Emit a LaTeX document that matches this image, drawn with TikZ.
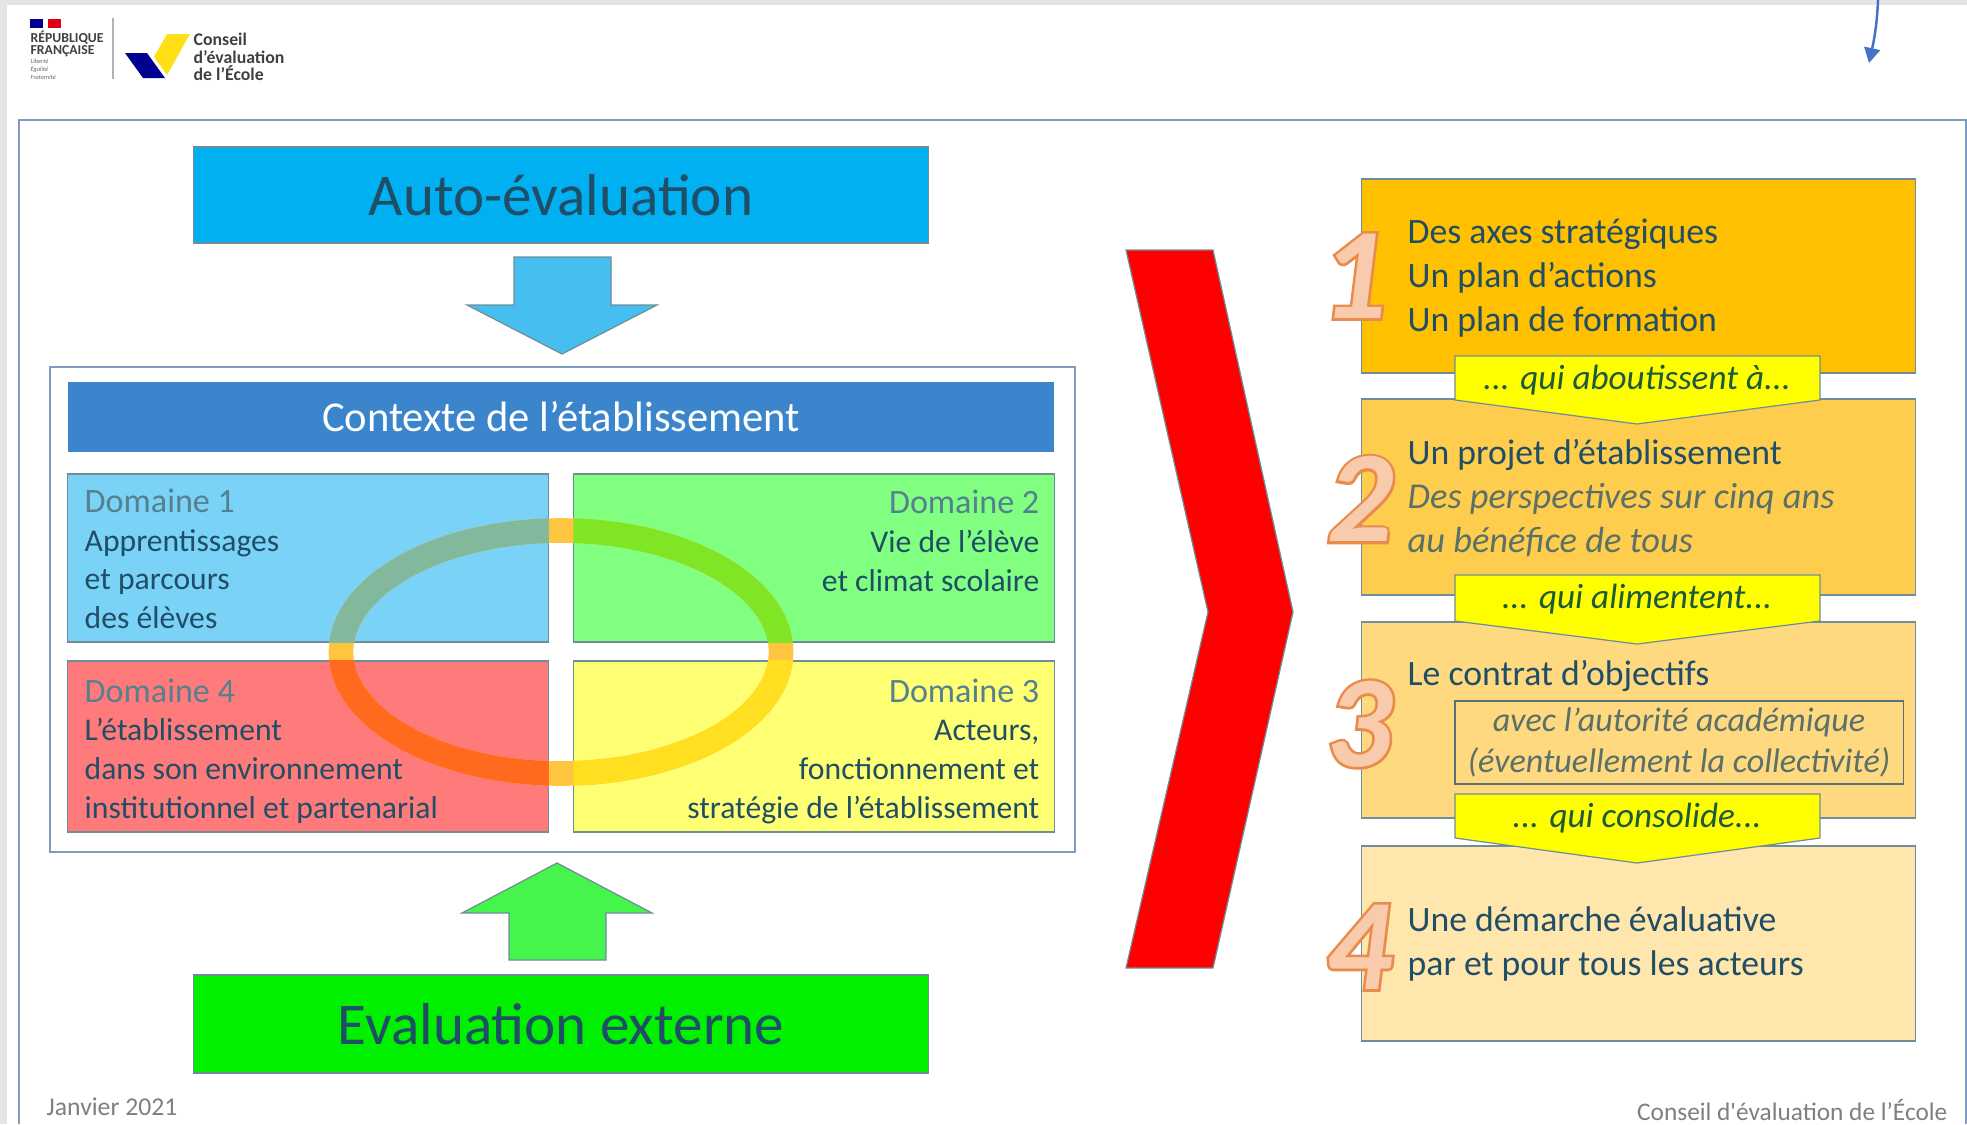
\documentclass[tikz,border=0pt]{standalone}
\usepackage{fontspec}
\setmainfont{Carlito}
\newfontfamily\digitline[FakeBold=4]{Carlito}
\newfontfamily\footline{Carlito}
\usetikzlibrary{arrows.meta}
\definecolor{bggrey}{HTML}{E4E4E4}
\definecolor{framecol}{HTML}{7D9CC0}
\definecolor{edgecol}{HTML}{6F8E98}
\definecolor{inkcol}{HTML}{1F4E66}
\definecolor{softcol}{HTML}{55808F}
\definecolor{greyink}{HTML}{5A7068}
\definecolor{linkcol}{HTML}{1C5A3A}
\definecolor{footcol}{HTML}{7F7F7F}
\definecolor{logoblue}{HTML}{000091}
\definecolor{logored}{HTML}{E1000F}
\definecolor{logoyellow}{HTML}{FFE017}
\definecolor{digitfill}{HTML}{F8CBAD}
\definecolor{digitedge}{HTML}{E98B4C}
\definecolor{arrowcol}{HTML}{4472C4}
\definecolor{linkfill}{RGB}{255,255,0}
\tikzset{
  flatbox/.style={draw=edgecol, line width=0.35pt, inner sep=0pt, rectangle},
  domtext/.style={text=inkcol, inner sep=0pt, font=\fontsize{9}{11}\selectfont},
  steptext/.style={text=inkcol, inner sep=0pt, align=left, anchor=west, font=\fontsize{10.15}{12.6}\selectfont},
  linktext/.style={text=linkcol, inner sep=0pt, font=\fontsize{10}{12}\selectfont\itshape},
  blockarrow/.style={draw=edgecol, line width=0.35pt},
  digitback/.style={text=digitedge, inner sep=0pt, font=\fontsize{37}{37}\digitline\bfseries\itshape},
  digitfront/.style={text=digitfill, inner sep=0pt, font=\fontsize{37}{37}\selectfont\bfseries\itshape},
  logotext/.style={inner sep=0pt, align=left, anchor=west},
}
\newcommand{\domhead}[1]{{\color{softcol}\fontsize{9.7}{11}\selectfont #1}}
\begin{document}
\begin{tikzpicture}[x=0.01cm, y=-0.01cm]
    \useasboundingbox (0,0) rectangle (1967,1124);
    \fill[bggrey] (0,0) rectangle (1967,1124);
    \fill[white] (7,5) rectangle (1967,1124);

    % Logo
    \fill[logoblue] (30,19) rectangle (43,28);
    \fill[logored] (48,19) rectangle (61,28);
    \node[logotext, font=\fontsize{3.9}{3.5}\selectfont\bfseries, text=black!75] (rf) at (30,44) {RÉPUBLIQUE\\FRANÇAISE};
    \node[logotext, font=\fontsize{1.8}{2.3}\selectfont\itshape, text=black!60] (devise) at (30,69) {Liberté\\Égalité\\Fraternité};
    \draw[black!30, line width=0.3pt] (113,18) -- (113,79);
    \fill[logoblue] (125,53) -- (147,53) -- (165,78) -- (143,78) -- cycle;
    \fill[logoyellow] (167,34) -- (190,34) -- (167,75) -- (154,57) -- cycle;
    \node[logotext, font=\fontsize{5.05}{4.9}\selectfont\bfseries, text=black!75] (cee) at (193,57) {Conseil\\d’évaluation\\de l’École};

    % Frames
    \coordinate (arrowtop) at (1878,0);
    \coordinate (arrowend) at (1869,63);
    \draw[framecol, line width=0.5pt] (19,1124) -- (19,120) -- (1966,120) -- (1966,1124);
    \draw[-{Triangle[length=1.5mm, width=1.6mm]}, color=arrowcol, line width=0.7pt] (arrowtop) .. controls (1877,25) and (1874,40) .. (arrowend);

    % Left column
    \node[flatbox, fill={rgb,255:red,0;green,176;blue,240}, minimum width=7.34cm, minimum height=0.96cm, text=inkcol, font=\fontsize{16.8}{20}\selectfont] (autoeval) at (561,195) {Auto-évaluation};
    \draw[blockarrow, fill={rgb,255:red,70;green,190;blue,240}] (514,257) -- (611,257) -- (611,305) -- (657,305) -- (562,354) -- (467,305) -- (514,305) -- cycle;
    \node[draw=framecol, line width=0.5pt, inner sep=0pt, minimum width=10.25cm, minimum height=4.85cm] (context) at (562.5,609.5) {};
    \node[inner sep=0pt, fill={rgb,255:red,59;green,133;blue,204}, minimum width=9.86cm, minimum height=0.69cm, text=white, font=\fontsize{12.1}{14}\selectfont] (ctxbar) at (561,417) {Contexte de l’établissement};

    \node[flatbox, fill={rgb,255:red,122;green,211;blue,247}, minimum width=4.8cm, minimum height=1.68cm] (dom1) at (308,558) {};
    \node[flatbox, fill={rgb,255:red,128;green,255;blue,128}, minimum width=4.8cm, minimum height=1.68cm] (dom2) at (814,558) {};
    \node[flatbox, fill={rgb,255:red,255;green,255;blue,115}, minimum width=4.8cm, minimum height=1.71cm] (dom3) at (814,746.5) {};
    \node[flatbox, fill={rgb,255:red,255;green,122;blue,122}, minimum width=4.8cm, minimum height=1.71cm] (dom4) at (308,746.5) {};

    % Ring over the four domains
    \draw[line width=7pt, color={rgb,255:red,255;green,196;blue,64}] (561,652) ellipse (220 and 121.5);
    \foreach \d/\r/\g/\b in {dom1/130/184/155, dom2/128/229/37, dom3/255/223/32, dom4/255/106/31} {
        \begin{scope}
            \clip (\d.south west) rectangle (\d.north east);
            \draw[line width=7pt, color={rgb,255:red,\r;green,\g;blue,\b}] (561,652) ellipse (220 and 121.5);
        \end{scope}
    }

    \node[domtext, align=left, anchor=west] (txt1) at (84,559) {\domhead{Domaine 1}\\Apprentissages\\et parcours\\des élèves};
    \node[domtext, align=right, anchor=east] (txt2) at (1040,541) {\domhead{Domaine 2}\\Vie de l’élève\\et climat scolaire};
    \node[domtext, align=right, anchor=east] (txt3) at (1040,751) {\domhead{Domaine 3}\\Acteurs,\\fonctionnement et\\stratégie de l’établissement};
    \node[domtext, align=left, anchor=west] (txt4) at (84,751) {\domhead{Domaine 4}\\L’établissement\\dans son environnement\\institutionnel et partenarial};

    \draw[blockarrow, fill={rgb,255:red,70;green,245;blue,75}] (509,960) -- (606,960) -- (606,913) -- (652,913) -- (557,863) -- (462,913) -- (509,913) -- cycle;
    \node[flatbox, fill={rgb,255:red,0;green,240;blue,0}, minimum width=7.34cm, minimum height=0.98cm, text=inkcol, font=\fontsize{16.8}{20}\selectfont] (externe) at (561,1024) {Evaluation externe};

    % Red chevron
    \draw[blockarrow, fill=red] (1126,250) -- (1213,250) -- (1293,612) -- (1213,968) -- (1126,968) -- (1208,612) -- cycle;

    % Right column
    \node[flatbox, fill={rgb,255:red,255;green,192;blue,0}, minimum width=5.53cm, minimum height=1.94cm] (step1) at (1638.5,276) {};
    \node[flatbox, fill={rgb,255:red,255;green,205;blue,77}, minimum width=5.53cm, minimum height=1.96cm] (step2) at (1638.5,497) {};
    \node[flatbox, fill={rgb,255:red,255;green,217;blue,128}, minimum width=5.53cm, minimum height=1.96cm] (step3) at (1638.5,720) {};
    \node[flatbox, fill={rgb,255:red,255;green,230;blue,173}, minimum width=5.53cm, minimum height=1.95cm] (step4) at (1638.5,943.5) {};

    \foreach \n/\t/\s/\p/\l in {a/356/400/424/{... qui aboutissent à...}, b/575/621/644/{... qui alimentent...}, c/794/838/863/{... qui consolide...}} {
        \draw[blockarrow, fill=linkfill] (1455,\t) -- (1820,\t) -- (1820,\s) -- (1637,\p) -- (1455,\s) -- cycle;
        \node[linktext] (link\n) at (1637,\t+24) {\l};
    }

    \node[steptext] (line1) at (1407,278) {Des axes stratégiques\\Un plan d’actions\\Un plan de formation};
    \node[steptext] (line2) at (1407,498) {Un projet d’établissement\\{\color{greyink}\fontsize{10.35}{12.6}\selectfont\itshape Des perspectives sur cinq ans}\\{\color{greyink}\fontsize{10.35}{12.6}\selectfont\itshape au bénéfice de tous}};
    \node[steptext] (line3) at (1407,676) {Le contrat d’objectifs};
    \node[steptext] (line4) at (1407,944) {Une démarche évaluative\\par et pour tous les acteurs};
    \node[draw=edgecol!80!black, line width=0.35pt, inner sep=0pt, minimum width=4.48cm, minimum height=0.83cm, align=center, text=greyink, font=\fontsize{9.7}{11.8}\selectfont\itshape] (avec) at (1679,742.5) {avec l’autorité académique\\(éventuellement la collectivité)};

    \foreach \n/\y/\xp in {1/276/1354, 2/499/1360, 3/724/1359, 4/947/1359} {
        \node[digitback] (back\n) at (\xp,\y) {\n};
        \node[digitfront] (digit\n) at (\xp,\y) {\n};
    }

    % Footer
    \node[inner sep=0pt, anchor=west, text=footcol, font=\fontsize{7.3}{8}\selectfont] (janvier) at (46,1107) {Janvier 2021};
    \node[inner sep=0pt, anchor=east, text=footcol, font=\fontsize{7.2}{8}\footline] (conseil) at (1948,1110) {Conseil d'évaluation de l’École};
\end{tikzpicture}
\end{document}
